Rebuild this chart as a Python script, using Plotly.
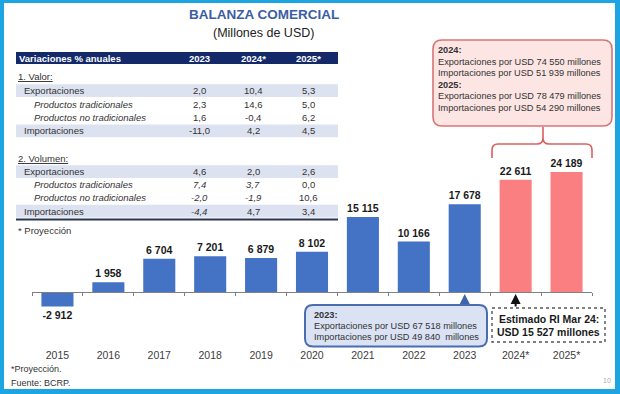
import plotly.graph_objects as go

W, H = 620, 394

# ---------------- data ----------------
years = ["2015", "2016", "2017", "2018", "2019", "2020", "2021", "2022", "2023", "2024*", "2025*"]
balance = [-2912, 1958, 6704, 7201, 6879, 8102, 15115, 10166, 17678, 22611, 24189]
projected = [False] * 9 + [True, True]

table_header = ["Variaciones % anuales", "2023", "2024*", "2025*"]
row_labels = ["Exportaciones", "Productos tradicionales", "Productos no tradicionales", "Importaciones"]
valor_vals = [["2,0", "10,4", "5,3"],
              ["2,3", "14,6", "5,0"],
              ["1,6", "-0,4", "6,2"],
              ["-11,0", "4,2", "4,5"]]
volumen_vals = [["4,6", "2,0", "2,6"],
                ["7,4", "3,7", "0,0"],
                ["-2,0", "-1,9", "10,6"],
                ["-4,4", "4,7", "3,4"]]
volumen_italic = [[False, False, False],
                  [True, True, False],
                  [True, True, False],
                  [True, False, False]]

box_proj_lines = ["<b>2024:</b>",
                  "Exportaciones por USD 74 550 millones",
                  "Importaciones por USD 51 939 millones",
                  "<b>2025:</b>",
                  "Exportaciones por USD 78 479 millones",
                  "Importaciones por USD 54 290 millones"]
box_2023_lines = ["<b>2023:</b>",
                  "Exportaciones por USD 67 518 millones",
                  "Importaciones por USD 49 840  millones"]
box_ri_lines = ["<b>Estimado RI Mar 24:</b>", "<b>USD 15 527 millones</b>"]

# ---------------- helpers ----------------
def fx(x):
    return x / W

def fy(y):
    return 1 - y / H

FONT = "Arial, Liberation Sans, sans-serif"
BLUE = "#4472C4"
PINK = "#FA7F80"
NAVY = "#13296A"
SHADE = "#DDE2F0"
TXT = "#333333"

def rounded_path(x0, y0, x1, y1, r):
    X = lambda v: f"{fx(v):.5f}"
    Y = lambda v: f"{fy(v):.5f}"
    return (f"M {X(x0 + r)},{Y(y0)} L {X(x1 - r)},{Y(y0)} Q {X(x1)},{Y(y0)} {X(x1)},{Y(y0 + r)} "
            f"L {X(x1)},{Y(y1 - r)} Q {X(x1)},{Y(y1)} {X(x1 - r)},{Y(y1)} "
            f"L {X(x0 + r)},{Y(y1)} Q {X(x0)},{Y(y1)} {X(x0)},{Y(y1 - r)} "
            f"L {X(x0)},{Y(y0 + r)} Q {X(x0)},{Y(y0)} {X(x0 + r)},{Y(y0)} Z")

def pts_path(cmds):
    out = []
    for c in cmds:
        if c[0] in ("M", "L"):
            out.append(f"{c[0]} {fx(c[1]):.5f},{fy(c[2]):.5f}")
        elif c[0] == "Q":
            out.append(f"Q {fx(c[1]):.5f},{fy(c[2]):.5f} {fx(c[3]):.5f},{fy(c[4]):.5f}")
    return " ".join(out)

shapes = []
annots = []

def text(x, y, s, size=9.5, color=TXT, xanchor="left", family=FONT, **kw):
    annots.append(dict(x=fx(x), y=fy(y), xref="paper", yref="paper", text=s, showarrow=False,
                       xanchor=xanchor, yanchor="middle", font=dict(size=size, color=color, family=family, **kw),
                       borderpad=0))

def rect(x0, y0, x1, y1, fill, line_color=None, lw=0, dash=None):
    line = dict(width=lw, color=line_color or fill)
    if dash:
        line["dash"] = dash
    shapes.append(dict(type="rect", xref="paper", yref="paper", x0=fx(x0), x1=fx(x1), y0=fy(y0), y1=fy(y1),
                       fillcolor=fill, line=line, layer="below"))

# ---------------- bar chart axes geometry ----------------
zero_px = 292
k = 0.00496  # pixels per USD million
top_px, bot_px = 143.2, 347
ymax = (zero_px - top_px) / k
ymin = -(bot_px - zero_px) / k

fig = go.Figure()
fig.add_trace(go.Bar(
    x=years, y=balance,
    marker=dict(color=[PINK if p else BLUE for p in projected], line=dict(width=0)),
    text=["<b>" + f"{v:,}".replace(",", " ") + "</b>" for v in balance],
    textposition="outside", textfont=dict(size=10.5, color="#1a1a1a", family=FONT),
    cliponaxis=False, hoverinfo="skip", showlegend=False,
))
# invisible trace that carries the zero-line axis with boundary ticks
fig.add_trace(go.Scatter(x=years, y=[0] * len(years), xaxis="x2", mode="markers",
                         marker=dict(opacity=0), hoverinfo="skip", showlegend=False))

# ---------------- table ----------------
tx0, tx1 = 16, 338
col_x = [199, 253, 308]
rect(tx0, 52, tx1, 64, NAVY)
text(18, 58, "<b>" + table_header[0] + "</b>", color="white", size=9.5)
for cx, h in zip(col_x, table_header[1:]):
    text(cx, 58, "<b>" + h + "</b>", color="white", size=9.5, xanchor="center")

sections = [("1. Valor:", 76.7, 90.6, 13.4, valor_vals, None),
            ("2. Volumen:", 158.3, 171.6, 13.2, volumen_vals, volumen_italic)]
for title, ty, y0, dy, vals, ital in sections:
    text(17, ty, title, lineposition="under")
    for i, lab in enumerate(row_labels):
        yc = y0 + i * dy
        if i in (0, 3):
            rect(tx0, yc - 6.4, tx1, yc + 6.4, SHADE)
        if i in (1, 2):
            text(33, yc, "<i>" + lab + "</i>")
        else:
            text(23, yc, lab)
        for j, cx in enumerate(col_x):
            v = vals[i][j]
            if ital and ital[i][j]:
                v = "<i>" + v + "</i>"
            text(cx, yc, v, xanchor="center")
shapes.append(dict(type="line", xref="paper", yref="paper", x0=fx(tx0), x1=fx(tx1), y0=fy(219.5), y1=fy(219.5),
                   line=dict(color="#2B3550", width=2)))
text(17, 230, "* Proyección")

# ---------------- titles & notes ----------------
text(264, 14.5, "<b>BALANZA COMERCIAL</b>", size=13.5, color="#3A5DA6", xanchor="center")
text(263, 33, "(Millones de USD)", size=12.5, color="#222222", xanchor="center")
text(10, 368.5, "*Proyección.", size=9)
text(10, 382.5, "Fuente: BCRP.", size=9)
text(607, 380, "10", size=7, color="#AAAAAA", xanchor="center")

# ---------------- projection box (top right) ----------------
shapes.append(dict(type="path", xref="paper", yref="paper", path=rounded_path(433, 40, 612, 126, 9),
                   fillcolor="#FCE5E3", line=dict(color="#D97475", width=1.6)))
for i, s in enumerate(box_proj_lines):
    text(437, 50 + i * 11.6, s, size=9.2, color="#333333")
shapes.append(dict(type="path", xref="paper", yref="paper",
                   path=pts_path([("M", 492, 158), ("L", 492, 150), ("Q", 492, 144, 498, 144), ("L", 537, 144),
                                  ("Q", 543, 144, 543, 138), ("L", 543, 127),
                                  ("M", 543, 138), ("Q", 543, 144, 549, 144), ("L", 586, 144),
                                  ("Q", 592, 144, 592, 150), ("L", 592, 158)]),
                   line=dict(color="#D9605E", width=1.6)))

# ---------------- 2023 box ----------------
shapes.append(dict(type="path", xref="paper", yref="paper", path=rounded_path(305, 305, 487, 346.5, 8),
                   fillcolor="#DAE2F3", line=dict(color="#4A6DB0", width=2)))
for i, s in enumerate(box_2023_lines):
    text(313, 314.5 + i * 11.2, s, size=9.2, color="#333333")
annots.append(dict(x=years.index("2023"), y=0, xref="x", yref="y", ax=0, ay=13, showarrow=True, arrowhead=2,
                   arrowsize=1, arrowwidth=2, arrowcolor="#3F64AE", standoff=2, text=""))

# ---------------- RI box ----------------
rect(492, 308, 605, 342, "white", "#555555", 1.4, "dot")
for i, s in enumerate(box_ri_lines):
    text(548.5, 319 + i * 13, s, size=10.5, color="#1a1a1a", xanchor="center")
annots.append(dict(x=years.index("2024*"), y=0, xref="x", yref="y", ax=0, ay=16, showarrow=True, arrowhead=2,
                   arrowsize=1, arrowwidth=2, arrowcolor="#111111", standoff=2, text=""))

# ---------------- cyan frame ----------------
CY = "#1CA5E0"
for r in [(0, 0, 4, 394), (615, 0, 620, 394), (0, 0, 620, 3), (0, 389, 620, 394)]:
    shapes.append(dict(type="rect", xref="paper", yref="paper", x0=fx(r[0]), x1=fx(r[2]), y0=fy(r[1]), y1=fy(r[3]),
                       fillcolor=CY, line=dict(width=0), layer="above"))

fig.update_layout(
    width=W, height=H, margin=dict(l=0, r=0, t=0, b=0),
    paper_bgcolor="white", plot_bgcolor="rgba(0,0,0,0)",
    bargap=0.37,
    xaxis=dict(domain=[fx(32), fx(592)], type="category", range=[-0.5, 10.5], showline=False, ticks="",
               showgrid=False, zeroline=False, tickfont=dict(size=10.5, color="#404040", family=FONT),
               fixedrange=True),
    xaxis2=dict(overlaying="x", anchor="free", position=fy(zero_px), type="category", range=[-0.5, 10.5],
                showline=True, linecolor="#808080", linewidth=1, ticks="outside", ticklen=3, tickwidth=1,
                tickcolor="#808080", tickson="boundaries", showticklabels=False, showgrid=False,
                zeroline=False, side="bottom", fixedrange=True),
    yaxis=dict(domain=[fy(bot_px), fy(top_px)], range=[ymin, ymax], visible=False, fixedrange=True),
    shapes=shapes, annotations=annots,
    font=dict(family=FONT),
    hovermode=False,
)

fig.write_html("out.html", config={"displayModeBar": False, "staticPlot": True},
               post_script="document.body.style.margin='0';document.body.style.overflow='hidden';")
